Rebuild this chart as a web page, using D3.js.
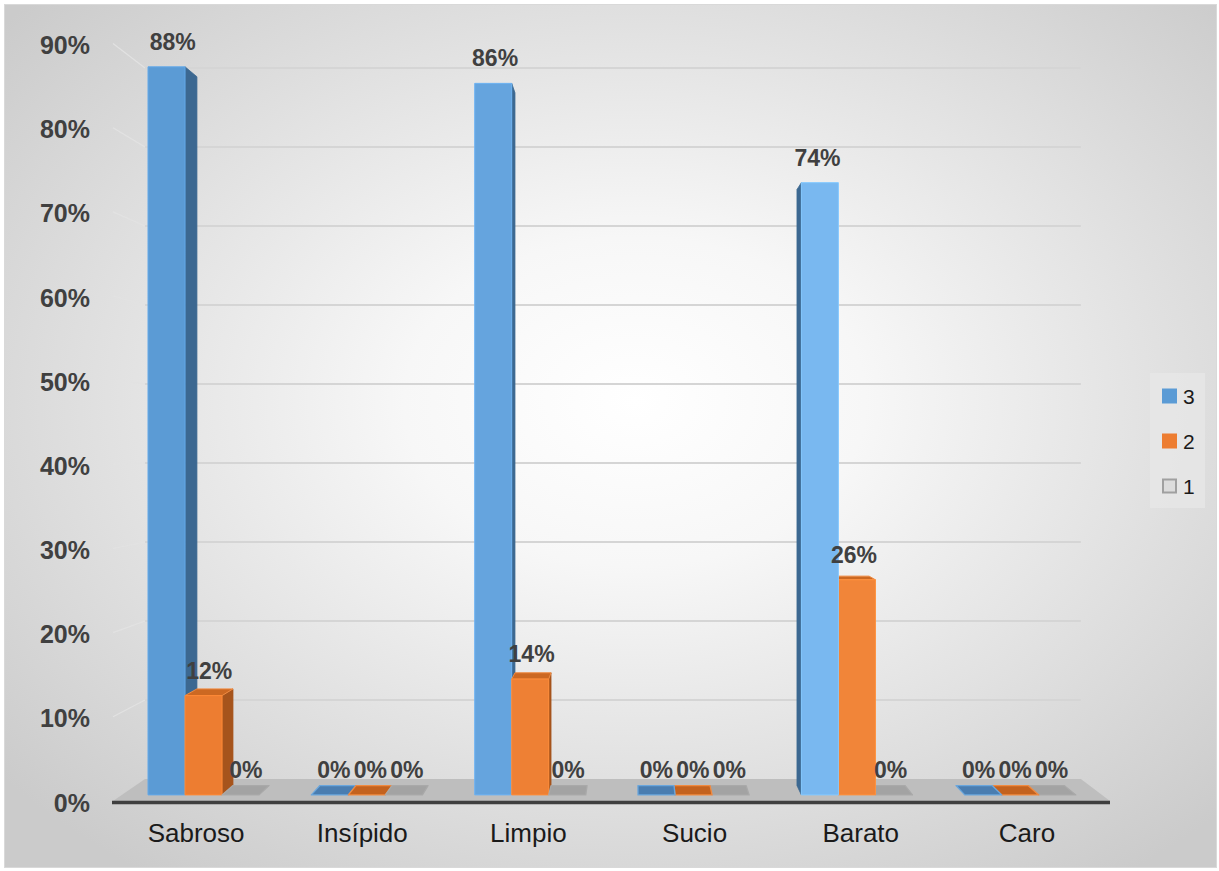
<!DOCTYPE html>
<html>
<head>
<meta charset="utf-8">
<script src="https://cdn.jsdelivr.net/npm/d3@7/dist/d3.min.js"></script>
<style>
  html, body { margin: 0; padding: 0; background: #ffffff; }
  svg { display: block; }
  text { font-family: "Liberation Sans", Arial, sans-serif; }
</style>
</head>
<body>
<svg id="chart" width="1219" height="871"></svg>
<script>
// ---- data ----
const categories = ["Sabroso", "Insípido", "Limpio", "Sucio", "Barato", "Caro"];
const seriesNames = ["3", "2", "1"];
const serie3 = [0.88, 0, 0.86, 0, 0.74, 0];
const serie2 = [0.12, 0, 0.14, 0, 0.26, 0];
const serie1 = [0, 0, 0, 0, 0, 0];
const tickValues = [0, 0.1, 0.2, 0.3, 0.4, 0.5, 0.6, 0.7, 0.8, 0.9];

const seriesValues = { "3": serie3, "2": serie2, "1": serie1 };

// ---- styling ----
const svg = d3.select("#chart");
const defs = svg.append("defs");

const bgGrad = defs.append("radialGradient").attr("id", "bg")
  .attr("cx", "52%").attr("cy", "46%").attr("r", "68%");
bgGrad.append("stop").attr("offset", "0").attr("stop-color", "#ffffff");
bgGrad.append("stop").attr("offset", "0.28").attr("stop-color", "#f7f7f7");
bgGrad.append("stop").attr("offset", "1").attr("stop-color", "#cbcbcb");

svg.append("rect").attr("x", 4.5).attr("y", 4.5).attr("width", 1212).attr("height", 863)
  .attr("fill", "url(#bg)").attr("stroke", "#d9d9d9").attr("stroke-width", 1);

// ---- scales (front plane coordinates) ----
const x = d3.scaleBand().domain(categories).range([113, 1110])
  .paddingInner(0.32).paddingOuter(0.16);
const xs = d3.scaleBand().domain(seriesNames).range([0, x.bandwidth()]);
const y = d3.scaleLinear().domain([0, 0.9]).range([801, 43.5]);

// ---- simple perspective projection toward a vanishing point ----
const VP = { x: 635, y: 442 };
const S_FRONT = 1, S_BAR0 = 0.983, S_BAR1 = 0.957, S_WALL = 0.9387;
const proj = (xf, yf, s) => [VP.x + (xf - VP.x) * s, VP.y + (yf - VP.y) * s];
const poly = pts => pts.map(p => p.join(",")).join(" ");

const xLeft = x.range()[0], xRight = x.range()[1];

// ---- walls: gridlines on back and left wall ----
const grid = svg.append("g");
tickValues.forEach(t => {
  if (t === 0) return;
  const a = proj(xLeft, y(t), S_FRONT);
  const b = proj(xLeft, y(t), S_WALL);
  const c = proj(xRight, y(t), S_WALL);
  grid.append("line").attr("x1", a[0]).attr("y1", a[1]).attr("x2", b[0]).attr("y2", b[1])
    .attr("stroke", "#e2e2e2").attr("stroke-width", 1.2);
  grid.append("line").attr("x1", b[0]).attr("y1", b[1]).attr("x2", c[0]).attr("y2", c[1])
    .attr("stroke", "#d5d5d5").attr("stroke-width", 2);
});

// ---- floor ----
const floorPts = [
  proj(xLeft, y(0), S_FRONT), proj(xRight, y(0), S_FRONT),
  proj(xRight, y(0), S_WALL), proj(xLeft, y(0), S_WALL)
];
svg.append("polygon").attr("points", poly(floorPts)).attr("fill", "#bebebe");
svg.append("line")
  .attr("x1", xLeft - 1).attr("y1", y(0) + 1.5).attr("x2", xRight).attr("y2", y(0) + 1.5)
  .attr("stroke", "#3f3f3f").attr("stroke-width", 3.5);

// ---- series palette ----
const palette = {
  "3": { front0: "#5b9bd5", front1: "#86c4fc", side: "#3c6891", top: "#4a80b5", flat: "#4a7db0", edge: "#6aa6dc" },
  "2": { front0: "#ed7d31", front1: "#f2883c", side: "#a6541c", top: "#cc6822", flat: "#c3621f", edge: "#f08a40" },
  "1": { front0: "#a5a5a5", front1: "#a5a5a5", side: "#7c7c7c", top: "#9a9a9a", flat: "#a3a3a3", edge: "#a9a9a9" }
};

// ---- boxes ----
const boxes = [];
categories.forEach((cat, i) => {
  seriesNames.forEach(sn => {
    const v = seriesValues[sn][i];
    const x0 = x(cat) + xs(sn), x1 = x0 + xs.bandwidth();
    boxes.push({ cat, sn, v, x0, x1, cx: (x0 + x1) / 2 });
  });
});
// draw the boxes farthest from the vanishing point first
boxes.sort((a, b) => Math.abs(b.cx - VP.x) - Math.abs(a.cx - VP.x));

const barsG = svg.append("g");
const xMin = x(categories[0]), xMax = x(categories[categories.length - 1]);
boxes.forEach(bx => {
  const pal = palette[bx.sn];
  const yT = y(bx.v), yB = y(0);
  const g = barsG.append("g");
  if (bx.v === 0) {
    const pts = [proj(bx.x0, yB, S_BAR0), proj(bx.x1, yB, S_BAR0), proj(bx.x1, yB, S_BAR1), proj(bx.x0, yB, S_BAR1)];
    g.append("polygon").attr("points", poly(pts)).attr("fill", pal.flat)
      .attr("stroke", pal.edge).attr("stroke-width", 1.3).attr("stroke-linejoin", "round");
    return;
  }
  const t = Math.pow((bx.x0 - xMin) / (xMax - xMin), 1.6);
  const frontCol = d3.interpolateRgb(pal.front0, pal.front1)(t);
  if (bx.x1 < VP.x) {
    const side = [proj(bx.x1, yT, S_BAR0), proj(bx.x1, yT, S_BAR1), proj(bx.x1, yB, S_BAR1), proj(bx.x1, yB, S_BAR0)];
    g.append("polygon").attr("points", poly(side)).attr("fill", pal.side)
      .attr("stroke", pal.side).attr("stroke-width", 0.8);
  }
  if (bx.x0 > VP.x) {
    const side = [proj(bx.x0, yT, S_BAR0), proj(bx.x0, yT, S_BAR1), proj(bx.x0, yB, S_BAR1), proj(bx.x0, yB, S_BAR0)];
    g.append("polygon").attr("points", poly(side)).attr("fill", pal.side)
      .attr("stroke", pal.side).attr("stroke-width", 0.8);
  }
  if (yT > VP.y) {
    const top = [proj(bx.x0, yT, S_BAR0), proj(bx.x1, yT, S_BAR0), proj(bx.x1, yT, S_BAR1), proj(bx.x0, yT, S_BAR1)];
    g.append("polygon").attr("points", poly(top)).attr("fill", pal.top)
      .attr("stroke", pal.edge).attr("stroke-width", 1).attr("stroke-linejoin", "round");
  }
  const front = [proj(bx.x0, yT, S_BAR0), proj(bx.x1, yT, S_BAR0), proj(bx.x1, yB, S_BAR0), proj(bx.x0, yB, S_BAR0)];
  g.append("polygon").attr("points", poly(front)).attr("fill", frontCol)
    .attr("stroke", d3.color(frontCol).brighter(0.25)).attr("stroke-width", 1);
});

// ---- value labels ----
const fmt = d3.format(".0%");
const labelsG = svg.append("g");
boxes.forEach(bx => {
  const sMid = (S_BAR0 + S_BAR1) / 2;
  const px = proj(bx.cx, y(bx.v), sMid)[0];
  const py = proj(bx.cx, y(bx.v), S_BAR0)[1] - 25;
  labelsG.append("text").attr("x", px).attr("y", py)
    .attr("text-anchor", "middle").attr("dominant-baseline", "central")
    .attr("font-size", 23).attr("font-weight", "bold").attr("fill", "#404040")
    .text(fmt(bx.v));
});

// ---- value axis ----
const yAxis = d3.axisLeft(y).tickValues(tickValues).tickFormat(d3.format(".0%"))
  .tickSize(0).tickPadding(0);
const yAxisG = svg.append("g").attr("transform", "translate(90,2)").call(yAxis);
yAxisG.select(".domain").remove();
yAxisG.selectAll("text")
  .attr("font-size", 25).attr("font-weight", "bold").attr("fill", "#404040")
  .attr("font-family", "Liberation Sans, Arial, sans-serif");

// ---- category axis (front plane) ----
const xAxis = d3.axisBottom(x).tickSize(0).tickPadding(0);
const xAxisG = svg.append("g").attr("transform", "translate(0,833)").call(xAxis);
xAxisG.select(".domain").remove();
xAxisG.selectAll("text")
  .attr("dy", "0.35em").attr("y", 0)
  .attr("font-size", 26).attr("fill", "#1a1a1a")
  .attr("font-family", "Liberation Sans, Arial, sans-serif");

// ---- legend ----
const legend = svg.append("g");
legend.append("rect").attr("x", 1150).attr("y", 373).attr("width", 55).attr("height", 135)
  .attr("fill", "#e6e6e6").attr("opacity", 0.85);
const legendY = d3.scalePoint().domain(seriesNames).range([396, 486]);
seriesNames.forEach(sn => {
  const cy = legendY(sn);
  const sw = legend.append("rect").attr("x", 1162).attr("y", cy - 7.5).attr("width", 15).attr("height", 15);
  if (sn === "1") {
    sw.attr("x", 1163).attr("y", cy - 6.5).attr("width", 13).attr("height", 13)
      .attr("fill", "#dcdcdc").attr("stroke", "#a0a0a0").attr("stroke-width", 2);
  } else {
    sw.attr("fill", palette[sn].front0);
  }
  legend.append("text").attr("x", 1183).attr("y", cy).attr("dominant-baseline", "central")
    .attr("font-size", 21).attr("fill", "#1a1a1a").text(sn);
});
</script>
</body>
</html>
